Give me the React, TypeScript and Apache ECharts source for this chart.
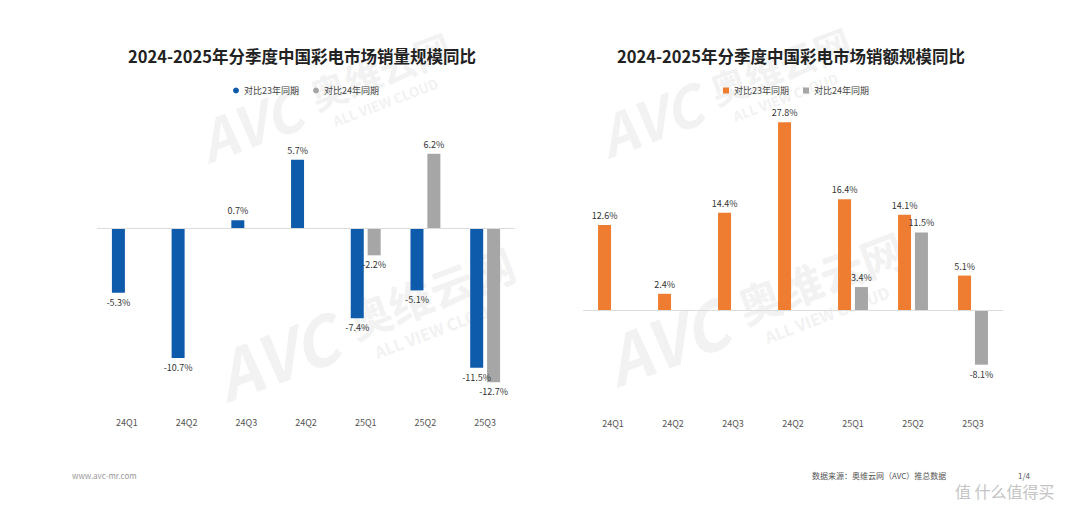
import React, { useEffect, useRef } from "react";
import * as echarts from "echarts";

const categoriesLeft = ["24Q1", "24Q2", "24Q3", "24Q2", "25Q1", "25Q2", "25Q3"];
const categoriesRight = ["24Q1", "24Q2", "24Q3", "24Q2", "25Q1", "25Q2", "25Q3"];
const volumeVs23 = [-5.3, -10.7, 0.7, 5.7, -7.4, -5.1, -11.5];
const volumeVs24 = [null, null, null, null, -2.2, 6.2, -12.7];
const valueVs23 = [12.6, 2.4, 14.4, 27.8, 16.4, 14.1, 5.1];
const valueVs24 = [null, null, null, null, 3.4, 11.5, -8.1];
const seriesNames = ["对比23年同期", "对比24年同期"];
const titles = ["2024-2025年分季度中国彩电市场销量规模同比", "2024-2025年分季度中国彩电市场销额规模同比"];

const BLUE = "#0F5BAB";
const ORANGE = "#EE7D31";
const GREY = "#A6A6A6";
const FONT = "'Noto Sans CJK SC', 'Noto Sans', sans-serif";

function watermark(x: number, y: number, s: number) {
  const c = "#f2f2f2";
  return {
    type: "group",
    x,
    y,
    rotation: 0.36,
    scaleX: s,
    scaleY: s,
    z: 0,
    silent: true,
    children: [
      { type: "text", x: 0, y: 0, style: { text: "AVC", fontSize: 70, fontWeight: "bold", fontStyle: "italic", fill: c, fontFamily: FONT } },
      { type: "text", x: 150, y: 8, style: { text: "奥维云网", fontSize: 46, fontWeight: "bold", fill: c, fontFamily: FONT } },
      { type: "text", x: 165, y: 62, style: { text: "ALL VIEW CLOUD", fontSize: 17, fontWeight: "bold", fill: c, fontFamily: FONT } },
    ],
  };
}

export default function App() {
  const ref = useRef<HTMLDivElement>(null);
  useEffect(() => {
    if (!ref.current) return;
    const chart = echarts.init(ref.current, undefined, { renderer: "svg" });
    const labelCommon = {
      show: true,
      fontSize: 9,
      color: "#333",
      fontFamily: FONT,
      formatter: (p: any) => (p.value == null ? "" : p.value + "%"),
    };
    const zeroLine = {
      silent: true,
      symbol: ["none", "none"],
      label: { show: false },
      lineStyle: { color: "#dcdcdc", type: "solid", width: 1 },
      data: [{ yAxis: 0 }],
    };
    const mkBar = (name: string, data: (number | null)[], color: string, idx: number, withLine: boolean) => ({
      type: "bar",
      name,
      xAxisIndex: idx,
      yAxisIndex: idx,
      data: data.map((v) => ({
        value: v,
        label: { position: v != null && v < 0 ? "bottom" : "top" },
      })),
      barWidth: 13,
      barGap: "30%",
      itemStyle: { color },
      label: labelCommon,
      z: 3,
      ...(withLine ? { markLine: zeroLine } : {}),
    });
    const xAxisCommon = (cats: string[], idx: number, margin: number) => ({
      type: "category",
      gridIndex: idx,
      data: cats,
      axisLine: { show: false },
      axisTick: { show: false },
      axisLabel: { fontSize: 9, color: "#555", margin, fontFamily: FONT },
    });
    const yAxisCommon = (idx: number, min: number, max: number) => ({
      type: "value",
      gridIndex: idx,
      min,
      max,
      show: false,
      splitLine: { show: false },
    });
    chart.setOption({
      animation: false,
      backgroundColor: "#ffffff",
      textStyle: { fontFamily: FONT },
      title: [
        { text: titles[0], left: 297, top: 43, textAlign: "center", textStyle: { fontSize: 16.5, fontWeight: "bold", color: "#222", fontFamily: FONT } },
        { text: titles[1], left: 786, top: 43, textAlign: "center", textStyle: { fontSize: 16.5, fontWeight: "bold", color: "#222", fontFamily: FONT } },
      ],
      legend: [
        {
          left: 228,
          top: 81,
          itemWidth: 6,
          itemHeight: 6,
          itemGap: 14,
          icon: "circle",
          textStyle: { fontSize: 9, color: "#444", fontFamily: FONT },
          data: [
            { name: seriesNames[0], itemStyle: { color: BLUE } },
            { name: seriesNames[1], itemStyle: { color: GREY } },
          ],
        },
        {
          left: 718,
          top: 81,
          itemWidth: 6,
          itemHeight: 6,
          itemGap: 14,
          icon: "rect",
          textStyle: { fontSize: 9, color: "#444", fontFamily: FONT },
          data: [
            { name: seriesNames[0], itemStyle: { color: ORANGE } },
            { name: seriesNames[1], itemStyle: { color: GREY } },
          ],
        },
      ],
      grid: [
        { left: 97, width: 418, top: 132, height: 266 },
        { left: 583, width: 420, top: 107.5, height: 270 },
      ],
      xAxis: [xAxisCommon(categoriesLeft, 0, 20), xAxisCommon(categoriesRight, 1, 41)],
      yAxis: [yAxisCommon(0, -14, 8), yAxisCommon(1, -10, 30)],
      series: [
        mkBar(seriesNames[0], volumeVs23, BLUE, 0, true),
        mkBar(seriesNames[1], volumeVs24, GREY, 0, false),
        mkBar(seriesNames[0], valueVs23, ORANGE, 1, true),
        mkBar(seriesNames[1], valueVs24, GREY, 1, false),
      ],
      graphic: [
        watermark(190, 115, 0.8),
        watermark(205, 345, 0.95),
        watermark(590, 110, 0.8),
        watermark(595, 330, 0.95),
        { type: "text", x: 72, y: 471, style: { text: "www.avc-mr.com", fontSize: 8, fill: "#999", fontFamily: FONT } },
        { type: "text", x: 812, y: 471, style: { text: "数据来源：奥维云网（AVC）推总数据", fontSize: 8, fill: "#555", fontFamily: FONT } },
        { type: "text", x: 1018, y: 471, style: { text: "1/4", fontSize: 8, fill: "#555", fontFamily: FONT } },
        { type: "text", x: 955, y: 483, style: { text: "值 什么值得买", fontSize: 16, fill: "#c4c4c4", fontFamily: FONT } },
      ],
    });
    return () => chart.dispose();
  }, []);
  return (
    <div
      ref={ref}
      style={{ position: "fixed", left: 0, top: 0, width: 1080, height: 515, background: "#fff" }}
    />
  );
}
